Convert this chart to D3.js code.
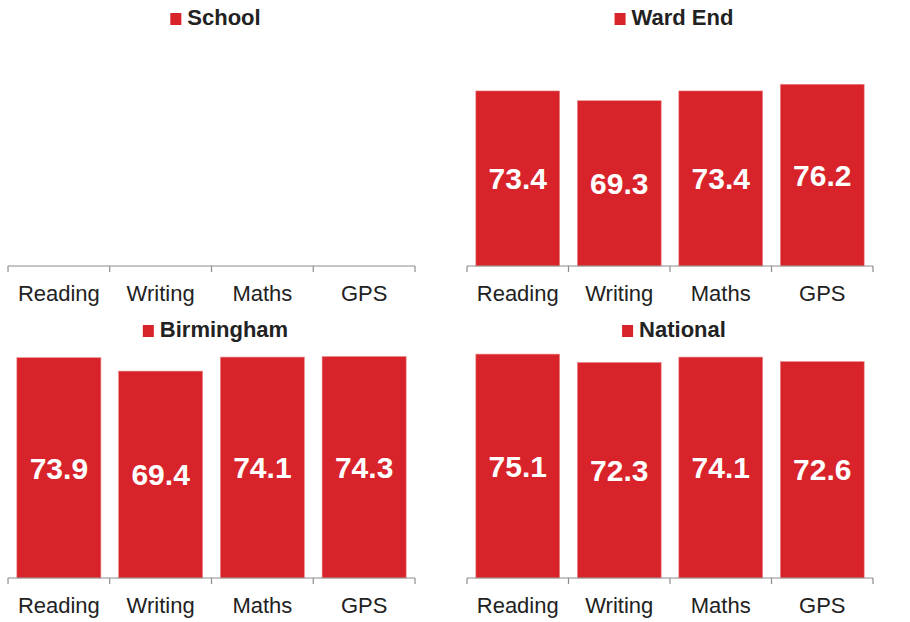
<!DOCTYPE html>
<html>
<head>
<meta charset="utf-8">
<script src="https://cdn.jsdelivr.net/npm/d3@7"></script>
<style>
  body { margin: 0; background: #fff; }
  svg { display: block; font-family: "Liberation Sans", Arial, sans-serif; }
</style>
</head>
<body>
<div id="chart"></div>
<script>
// chart data
var subjects = ["Reading", "Writing", "Maths", "GPS"]
var schoolValues = []  // no school figures shown
var wardEndValues = [73.4, 69.3, 73.4, 76.2]
var birminghamValues = [73.9, 69.4, 74.1, 74.3]
var nationalValues = [75.1, 72.3, 74.1, 72.6]
var panelTitles = ["School", "Ward End", "Birmingham", "National"]

var width = 910, height = 622
var red = "#d9232a"

var svg = d3.select("#chart").append("svg")
    .attr("width", width)
    .attr("height", height)

// panel layout: x0,x1 of axis, baseline y, y-domain max
var panels = [
    {title: panelTitles[0], values: schoolValues,     x0: 8,   x1: 415, base: 266, yMax: 100},
    {title: panelTitles[1], values: wardEndValues,    x0: 467, x1: 873, base: 266, yMax: 100},
    {title: panelTitles[2], values: birminghamValues, x0: 8,   x1: 415, base: 578, yMax: 80},
    {title: panelTitles[3], values: nationalValues,   x0: 467, x1: 873, base: 578, yMax: 80}
]

panels.forEach(function (p) {
    var g = svg.append("g")

    var x = d3.scaleBand()
        .domain(subjects)
        .range([p.x0, p.x1])
        .paddingInner(0.174)
        .paddingOuter(0.087)

    var y = d3.scaleLinear()
        .domain([0, p.yMax])
        .range([p.base, p.base - 238.5])

    var data = p.values.map(function (v, i) { return {k: subjects[i], v: v} })

    g.selectAll("rect.bar")
        .data(data)
        .enter()
        .append("rect")
        .attr("class", "bar")
        .attr("x", d => x(d.k))
        .attr("y", d => y(d.v))
        .attr("width", x.bandwidth())
        .attr("height", d => y(0) - y(d.v))
        .attr("fill", red)
        .attr("stroke", "#ec8a8d")
        .attr("stroke-width", 0.6)

    g.selectAll("text.val")
        .data(data)
        .enter()
        .append("text")
        .attr("class", "val")
        .attr("x", d => x(d.k) + x.bandwidth() / 2)
        .attr("y", d => (y(d.v) + y(0)) / 2 + 10.7)
        .attr("text-anchor", "middle")
        .attr("fill", "#fff")
        .attr("font-weight", "bold")
        .attr("font-size", "30px")
        .text(d => d.v.toFixed(1))

    // axis: baseline with ticks at band edges
    g.append("line")
        .attr("x1", p.x0).attr("x2", p.x1)
        .attr("y1", p.base).attr("y2", p.base)
        .attr("stroke", "#8c8c8c").attr("stroke-width", 1.2)

    var edges = subjects.map(s => x(s) - x.step() * x.paddingInner() / 2)
    edges[0] = p.x0
    edges.push(p.x1)
    g.selectAll("line.tick")
        .data(edges)
        .enter()
        .append("line")
        .attr("class", "tick")
        .attr("x1", d => d).attr("x2", d => d)
        .attr("y1", p.base).attr("y2", p.base + 6)
        .attr("stroke", "#8c8c8c").attr("stroke-width", 1.2)

    g.selectAll("text.cat")
        .data(subjects)
        .enter()
        .append("text")
        .attr("class", "cat")
        .attr("x", d => x(d) + x.bandwidth() / 2)
        .attr("y", p.base + 35)
        .attr("text-anchor", "middle")
        .attr("fill", "#222")
        .attr("font-size", "22px")
        .text(d => d)

    // title with legend square
    var tg = g.append("g")
    var t = tg.append("text")
        .attr("x", 17)
        .attr("y", 0)
        .attr("fill", "#222")
        .attr("font-weight", "bold")
        .attr("font-size", "22px")
        .text(p.title)
    tg.append("rect")
        .attr("x", 0).attr("y", -12)
        .attr("width", 11).attr("height", 12)
        .attr("fill", red)
    var tw = 17 + t.node().getComputedTextLength()
    var cx = (p.x0 + p.x1) / 2 + 4
    tg.attr("transform", "translate(" + (cx - tw / 2) + "," + (p.base - 241) + ")")
})
</script>
</body>
</html>
